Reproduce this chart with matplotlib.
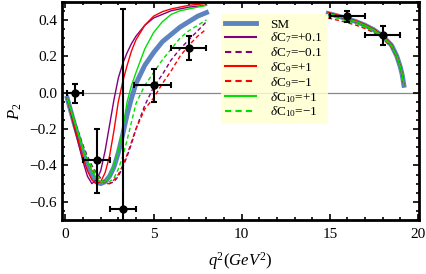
#!/usr/bin/env python3
# P2 observable vs q^2: SM and NP (dC7, dC9, dC10) curves with data points
import numpy as np
import matplotlib
matplotlib.use("Agg")
import matplotlib.pyplot as plt
from matplotlib.ticker import MultipleLocator

plt.rcParams['font.family'] = ['Liberation Serif', 'DejaVu Serif']
plt.rcParams['mathtext.fontset'] = 'custom'
plt.rcParams['mathtext.rm'] = 'Liberation Serif'
plt.rcParams['mathtext.it'] = 'Liberation Serif:italic'

# Low q^2 region
q2_low = [0.1, 0.5, 1.0, 1.25, 1.5, 1.75, 2.0, 2.25, 2.5, 2.75, 3.0, 3.25, 3.5, 3.75,
          4.0, 4.5, 5.0, 5.5, 6.0, 6.5, 7.0, 7.5, 8.0]
sm_low   = [-0.03, -0.17, -0.33, -0.40, -0.45, -0.49, -0.50, -0.49, -0.46, -0.41, -0.33, -0.23,
            -0.12, -0.03, 0.05, 0.15, 0.22, 0.28, 0.32, 0.36, 0.39, 0.42, 0.44]
c7p_low  = [-0.03, -0.19, -0.38, -0.46, -0.50, -0.48, -0.43, -0.32, -0.18, -0.04, 0.08, 0.16,
            0.22, 0.27, 0.31, 0.37, 0.41, 0.43, 0.45, 0.46, 0.47, 0.475, 0.48]
c7m_low  = [-0.03, -0.15, -0.29, -0.35, -0.40, -0.44, -0.47, -0.49, -0.50, -0.49, -0.46, -0.41,
            -0.35, -0.28, -0.20, -0.07, 0.03, 0.10, 0.18, 0.24, 0.29, 0.34, 0.39]
c9p_low  = [-0.03, -0.18, -0.36, -0.43, -0.48, -0.50, -0.49, -0.44, -0.35, -0.21, -0.05, 0.06,
            0.15, 0.23, 0.29, 0.37, 0.42, 0.445, 0.46, 0.47, 0.48, 0.485, 0.49]
c9m_low  = [-0.03, -0.16, -0.31, -0.37, -0.42, -0.46, -0.48, -0.50, -0.50, -0.48, -0.45, -0.40,
            -0.34, -0.27, -0.20, -0.09, -0.03, 0.05, 0.12, 0.20, 0.26, 0.31, 0.35]
c10p_low = [-0.03, -0.16, -0.31, -0.38, -0.43, -0.47, -0.49, -0.49, -0.46, -0.40, -0.32, -0.20,
            -0.05, 0.04, 0.11, 0.24, 0.33, 0.39, 0.43, 0.45, 0.46, 0.47, 0.48]
c10m_low = [-0.03, -0.15, -0.30, -0.36, -0.41, -0.45, -0.48, -0.49, -0.49, -0.47, -0.42, -0.35,
            -0.26, -0.16, -0.06, 0.04, 0.11, 0.18, 0.24, 0.30, 0.34, 0.37, 0.40]

# High q^2 region
q2_high = [14.9, 15.5, 16.0, 16.5, 17.0, 17.5, 18.0, 18.5, 18.8, 19.0, 19.1, 19.2]
sm_high   = [0.435, 0.42, 0.405, 0.39, 0.37, 0.345, 0.31, 0.26, 0.20, 0.14, 0.10, 0.04]
c7p_high  = [0.437, 0.422, 0.407, 0.392, 0.372, 0.347, 0.312, 0.262, 0.202, 0.142, 0.10, 0.04]
c7m_high  = [0.43, 0.415, 0.40, 0.385, 0.366, 0.341, 0.307, 0.257, 0.198, 0.139, 0.10, 0.04]
c9p_high  = [0.44, 0.425, 0.41, 0.394, 0.374, 0.349, 0.314, 0.263, 0.203, 0.142, 0.10, 0.04]
c9m_high  = [0.41, 0.397, 0.384, 0.37, 0.352, 0.329, 0.297, 0.25, 0.193, 0.136, 0.098, 0.04]
c10p_high = [0.435, 0.42, 0.405, 0.39, 0.37, 0.345, 0.31, 0.26, 0.20, 0.14, 0.10, 0.04]
c10m_high = [0.422, 0.408, 0.394, 0.38, 0.361, 0.337, 0.303, 0.254, 0.196, 0.138, 0.099, 0.04]

# Experimental bins
exp_q2   = [0.55, 1.8, 3.25, 5.0, 7.0, 16.0, 18.0]
exp_xlo  = [0.45, 0.8, 0.75, 1.1, 1.0, 1.0, 1.0]
exp_xhi  = [0.45, 0.7, 0.75, 1.0, 1.0, 1.0, 1.0]
exp_p2   = [0.0, -0.37, -0.64, 0.04, 0.245, 0.42, 0.315]
exp_ylo  = [0.055, 0.18, 0.3, 0.09, 0.065, 0.03, 0.055]
exp_yhi  = [0.05, 0.17, 1.10, 0.09, 0.065, 0.03, 0.05]

labels = ['SM', r'$\delta$C$_7$=+0.1', r'$\delta$C$_7$=$-$0.1', r'$\delta$C$_9$=+1',
          r'$\delta$C$_9$=$-$1', r'$\delta$C$_{10}$=+1', r'$\delta$C$_{10}$=$-$1']
colors = ['#5d84c0', '#800080', '#800080', '#ff0000', '#ff0000', '#00e000', '#00e000']
styles = ['-', '-', '--', '-', '--', '-', '--']
widths = [3.5, 1.0, 1.0, 1.0, 1.0, 1.0, 1.0]
low = [sm_low, c7p_low, c7m_low, c9p_low, c9m_low, c10p_low, c10m_low]
high = [sm_high, c7p_high, c7m_high, c9p_high, c9m_high, c10p_high, c10m_high]

fig = plt.figure(figsize=(4.27, 2.74), dpi=100)
ax = fig.add_axes([0.145, 0.197, 0.836, 0.797])

ax.axhline(0, color='#888888', lw=0.9, zorder=1)

for i in range(len(labels)):
    dash = (3, 2) if styles[i] == '--' else (None, None)
    ax.plot(q2_low, low[i], color=colors[i], ls=styles[i], lw=widths[i],
            label=labels[i], zorder=2, dashes=dash)
    ax.plot(q2_high, high[i], color=colors[i], ls=styles[i], lw=widths[i], zorder=2,
            dashes=dash)

ax.errorbar(exp_q2, exp_p2, xerr=[exp_xlo, exp_xhi], yerr=[exp_ylo, exp_yhi],
            fmt='o', color='black', ms=5, lw=1.5, capsize=2.5, capthick=1.5, zorder=5)

ax.set_xlim(-0.2, 20.05)
ax.set_ylim(-0.7, 0.5)
ax.xaxis.set_major_locator(MultipleLocator(5))
ax.xaxis.set_minor_locator(MultipleLocator(1))
ax.yaxis.set_major_locator(MultipleLocator(0.2))
ax.yaxis.set_minor_locator(MultipleLocator(0.05))
ax.tick_params(which='both', direction='in', top=True, right=True, labelsize=11, width=1.2)
ax.tick_params(which='major', length=4)
ax.tick_params(which='minor', length=2)
ax.tick_params(axis='x', pad=6)
for s in ax.spines.values():
    s.set_linewidth(2)

ax.set_yticks([-0.6, -0.4, -0.2, 0.0, 0.2, 0.4])
ax.set_yticklabels(['\u22120.6', '\u22120.4', '\u22120.2', '0.0', '0.2', '0.4'])

ax.set_ylabel(r'$P_2$', fontsize=12, labelpad=4)
ax.set_xlabel(r'$q^2(GeV^2)$', fontsize=12, labelpad=6)

leg = ax.legend(loc='upper left', bbox_to_anchor=(0.445, 0.945), borderaxespad=0,
                fontsize=9.5, frameon=True, facecolor='#ffffd2', edgecolor='none',
                framealpha=0.85, fancybox=False, handlelength=2.3, labelspacing=0.0,
                handletextpad=1.1, borderpad=0.35)
for h in leg.get_lines()[1:]:
    h.set_linewidth(1.5)

fig.savefig('out.png', dpi=100)
